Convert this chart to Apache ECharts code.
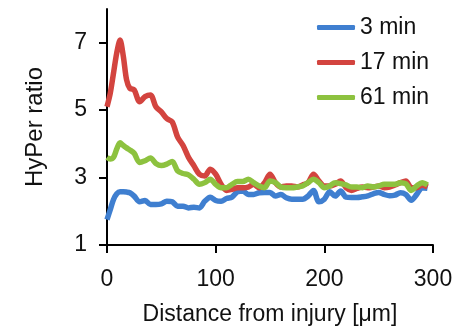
<!DOCTYPE html>
<html>
<head>
<meta charset="utf-8">
<script src="https://cdn.jsdelivr.net/npm/echarts@6/dist/echarts.min.js"></script>
<style>
  html, body { margin: 0; padding: 0; background: #fff; }
  #chart { width: 470px; height: 331px; }
</style>
</head>
<body>
<div id="chart"></div>
<script>
// distance from injury (um)
var distance = [0, 3, 6, 9, 12, 15, 18, 21, 25, 30, 35, 40, 45, 50, 55, 60, 65, 70, 75, 80,
  85, 90, 95, 100, 105, 110, 115, 120, 125, 130, 135, 140, 145, 150, 155, 160, 165, 170, 175, 180,
  185, 190, 195, 200, 205, 210, 215, 220, 225, 230, 235, 240, 245, 250, 255, 260, 265, 270, 275, 280,
  285, 290, 295];

var min3 = [1.75, 2.05, 2.35, 2.52, 2.58, 2.58, 2.57, 2.55, 2.45, 2.28, 2.32, 2.2, 2.2, 2.22, 2.3, 2.28, 2.15, 2.15, 2.1, 2.12,
  2.1, 2.3, 2.42, 2.32, 2.3, 2.38, 2.42, 2.58, 2.6, 2.5, 2.5, 2.55, 2.56, 2.56, 2.45, 2.5, 2.4, 2.36, 2.36, 2.36,
  2.45, 2.62, 2.28, 2.36, 2.58, 2.45, 2.6, 2.42, 2.41, 2.41, 2.43, 2.46, 2.52, 2.56, 2.5, 2.46, 2.48, 2.55, 2.5, 2.33,
  2.5, 2.7, 2.68];

var min17 = [5.1, 5.5, 6.1, 6.7, 7.08, 6.6, 5.9, 5.65, 5.6, 5.25, 5.4, 5.45, 5.1, 4.95, 4.75, 4.65, 4.2, 3.95, 3.6, 3.35,
  3.1, 3.05, 3.25, 3.1, 2.8, 2.62, 2.65, 2.7, 2.7, 2.72, 2.8, 2.7, 2.85, 3.1, 2.85, 2.72, 2.75, 2.75, 2.72, 2.78,
  2.85, 3.1, 2.9, 2.75, 2.75, 2.8, 2.9, 2.7, 2.62, 2.68, 2.72, 2.7, 2.72, 2.75, 2.7, 2.72, 2.78, 2.85, 2.9, 2.7,
  2.7, 2.78, 2.72];

var min61 = [3.6, 3.55, 3.6, 3.85, 4.03, 3.95, 3.88, 3.82, 3.72, 3.45, 3.5, 3.58, 3.42, 3.36, 3.4, 3.48, 3.2, 3.12, 3.08, 2.95,
  2.8, 2.85, 2.95, 2.8, 2.7, 2.7, 2.8, 2.88, 2.88, 2.95, 2.85, 2.75, 2.7, 2.9, 2.85, 2.72, 2.7, 2.7, 2.72, 2.75,
  2.85, 2.95, 2.85, 2.7, 2.75, 2.85, 2.82, 2.78, 2.72, 2.72, 2.7, 2.75, 2.72, 2.75, 2.8, 2.8, 2.8, 2.85, 2.82, 2.62,
  2.75, 2.85, 2.78];

var xTicks = [0, 100, 200, 300];
var yTicks = [1, 3, 5, 7];

var seriesDefs = [
  {name: '3 min', values: min3, color: '#3f7fd0'},
  {name: '17 min', values: min17, color: '#d3443f'},
  {name: '61 min', values: min61, color: '#8dc23f'}
];

var font = 'Liberation Sans, Arial, sans-serif';
var chart = echarts.init(document.getElementById('chart'), null, {renderer: 'canvas'});

var seriesList = seriesDefs.map(function (item) {
  return {
    name: item.name,
    type: 'line',
    data: distance.map(function (d, i) { return [d, item.values[i]]; }),
    showSymbol: false,
    smooth: 0.3,
    color: item.color,
    lineStyle: {width: 5.5, color: item.color}
  };
});

chart.setOption({
  animation: false,
  grid: {left: 107, right: 37, top: 9, bottom: 85},
  legend: {
    orient: 'vertical',
    left: 317,
    top: 16,
    padding: 0,
    icon: 'roundRect',
    itemWidth: 38,
    itemHeight: 5,
    itemGap: 12,
    textStyle: {fontSize: 23, color: '#111', fontFamily: font},
    data: seriesDefs.map(function (s) { return s.name; })
  },
  xAxis: {
    type: 'value',
    min: 0,
    max: 300,
    interval: 100,
    name: 'Distance from injury [μm]',
    nameLocation: 'middle',
    nameGap: 58,
    nameTextStyle: {fontSize: 23, color: '#111', fontFamily: font},
    axisLine: {lineStyle: {color: '#000', width: 2}},
    axisTick: {show: true, length: 8, lineStyle: {color: '#000', width: 2}, customValues: xTicks},
    axisLabel: {fontSize: 23, color: '#111', fontFamily: font, margin: 23, customValues: xTicks},
    splitLine: {show: false}
  },
  yAxis: {
    type: 'value',
    min: 1,
    max: 8,
    name: 'HyPer ratio',
    nameLocation: 'middle',
    nameGap: 60,
    nameTextStyle: {fontSize: 24, color: '#111', fontFamily: font},
    axisLine: {show: true, lineStyle: {color: '#000', width: 2}},
    axisTick: {show: true, length: 8, lineStyle: {color: '#000', width: 2}, customValues: yTicks},
    axisLabel: {fontSize: 23, color: '#111', fontFamily: font, margin: 20, customValues: yTicks},
    splitLine: {show: false}
  },
  series: seriesList
});
</script>
</body>
</html>
